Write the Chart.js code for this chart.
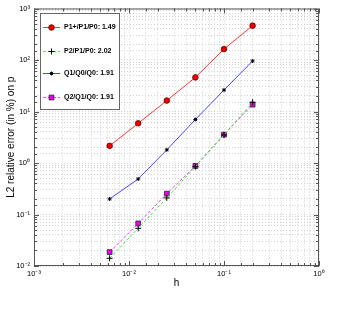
<!DOCTYPE html>
<html>
<head>
<meta charset="utf-8">
<script src="https://cdn.jsdelivr.net/npm/chart.js@4/dist/chart.umd.min.js"></script>
<style>
  html, body { margin: 0; padding: 0; background: #fff; }
  #wrap { width: 340px; height: 331px; }
</style>
</head>
<body>
<div id="wrap"><canvas id="errChart" width="340" height="331"></canvas></div>
<script>
// mesh sizes
const h = [0.00625, 0.0125, 0.025, 0.05, 0.1, 0.2];

// L2 relative error (in %) on p
const p1plus = [2.15, 5.9, 16.3, 46, 163, 465];
const p2 = [0.0141, 0.054, 0.21, 0.85, 3.5, 15.1];
const q1 = [0.2, 0.49, 1.8, 7.0, 26.1, 95.7];
const q2 = [0.0186, 0.067, 0.254, 0.875, 3.56, 13.6];

const labels = ['P1+/P1/P0: 1.49', 'P2/P1/P0: 2.02', 'Q1/Q0/Q0: 1.91', 'Q2/Q1/Q0: 1.91'];

const sup = { '-': '\u207B', '0': '\u2070', '1': '\u00B9', '2': '\u00B2', '3': '\u00B3' };
function powLabel(v) {
    const e = Math.round(Math.log10(v));
    if (Math.abs(Math.log10(v) - e) > 1e-6) return '';
    return '10' + String(e).split('').map(c => sup[c]).join('');
}

function pts(ys) {
    return h.map((x, i) => ({ x: x, y: ys[i] }));
}

// box + inner ticks, matlab style
const boxPlugin = {
    id: 'box',
    afterDraw(chart) {
        const { ctx, chartArea: a } = chart;
        const xs = chart.scales.x, ys = chart.scales.y;
        ctx.save();
        ctx.strokeStyle = '#555';
        ctx.lineWidth = 1;
        ctx.strokeRect(a.left + 0.5, a.top + 0.5, a.right - a.left - 1, a.bottom - a.top - 1);
        ctx.beginPath();
        xs.ticks.forEach(t => {
            const px = Math.round(xs.getPixelForValue(t.value)) + 0.5;
            const len = powLabel(t.value) ? 5 : 3;
            ctx.moveTo(px, a.bottom); ctx.lineTo(px, a.bottom - len);
            ctx.moveTo(px, a.top); ctx.lineTo(px, a.top + len);
        });
        ys.ticks.forEach(t => {
            const py = Math.round(ys.getPixelForValue(t.value)) + 0.5;
            const len = powLabel(t.value) ? 5 : 3;
            ctx.moveTo(a.left, py); ctx.lineTo(a.left + len, py);
            ctx.moveTo(a.right, py); ctx.lineTo(a.right - len, py);
        });
        ctx.stroke();

        // legend box
        const lx = 40, ly = 13, lw = 79, lh = 96;
        ctx.fillStyle = '#fff';
        ctx.fillRect(lx, ly, lw, lh);
        ctx.strokeStyle = '#666';
        ctx.strokeRect(lx + 0.5, ly + 0.5, lw, lh);
        const rows = [27, 51, 73, 97];
        chart.data.datasets.forEach((ds, i) => {
            const y = rows[i] + 0.5;
            ctx.save();
            ctx.strokeStyle = ds.borderColor;
            ctx.lineWidth = 1;
            ctx.setLineDash(ds.borderDash || []);
            ctx.beginPath();
            ctx.moveTo(43, y); ctx.lineTo(60, y);
            ctx.stroke();
            ctx.restore();
            ctx.save();
            ctx.fillStyle = ds.pointBackgroundColor;
            ctx.strokeStyle = ds.pointBorderColor;
            ctx.lineWidth = ds.pointBorderWidth;
            Chart.helpers.drawPoint(ctx, {
                pointStyle: ds.pointStyle, radius: ds.pointRadius,
                borderWidth: ds.pointBorderWidth, rotation: 0
            }, 51.5, y);
            ctx.restore();
            ctx.fillStyle = '#000';
            ctx.font = 'bold 7px "Liberation Sans", Arial, sans-serif';
            ctx.textBaseline = 'middle';
            ctx.fillText(labels[i], 64, y);
        });
        ctx.restore();
    }
};

new Chart(document.getElementById('errChart').getContext('2d'), {
    type: 'line',
    data: {
        datasets: [{
            label: labels[0],
            data: pts(p1plus),
            borderColor: 'rgba(255, 50, 50, 1)',
            borderWidth: 1,
            pointStyle: 'circle',
            pointRadius: 2.8,
            pointBackgroundColor: '#ee0000',
            pointBorderColor: '#600000',
            pointBorderWidth: 0.8
        }, {
            label: labels[1],
            data: pts(p2),
            borderColor: 'rgba(60, 240, 60, 1)',
            borderWidth: 1,
            borderDash: [3, 2],
            pointStyle: 'cross',
            pointRadius: 3,
            pointBackgroundColor: '#000',
            pointBorderColor: '#000',
            pointBorderWidth: 1
        }, {
            label: labels[2],
            data: pts(q1),
            borderColor: 'rgba(70, 70, 255, 1)',
            borderWidth: 1,
            pointStyle: 'star',
            pointRadius: 2,
            pointBackgroundColor: '#000',
            pointBorderColor: '#000',
            pointBorderWidth: 1
        }, {
            label: labels[3],
            data: pts(q2),
            borderColor: 'rgba(255, 60, 255, 1)',
            borderWidth: 1,
            borderDash: [3, 2],
            pointStyle: 'rect',
            pointRadius: 3.4,
            pointBackgroundColor: '#ee00ee',
            pointBorderColor: '#222',
            pointBorderWidth: 0.8
        }]
    },
    options: {
        responsive: false,
        animation: false,
        layout: { padding: { left: 0, top: 7, right: 21, bottom: 0 } },
        plugins: { legend: { display: false }, tooltip: { enabled: false } },
        scales: {
            x: {
                type: 'logarithmic',
                min: 0.001, max: 1,
                afterFit(s) { s.height = 65; },
                grid: { color: '#d2d2d2', drawTicks: false },
                border: { display: false, dash: [1, 2] },
                ticks: {
                    autoSkip: false, maxRotation: 0, padding: 3,
                    color: '#000',
                    font: { family: '"Liberation Sans", Arial, sans-serif', size: 7.5 },
                    callback: v => powLabel(v)
                },
                title: {
                    display: true, text: 'h', color: '#000',
                    font: { family: '"Liberation Sans", Arial, sans-serif', size: 10 },
                    padding: { top: 0, bottom: 42 }
                }
            },
            y: {
                type: 'logarithmic',
                min: 0.01, max: 1000,
                afterFit(s) { s.width = 34; },
                grid: { color: '#d2d2d2', drawTicks: false },
                border: { display: false, dash: [1, 2] },
                ticks: {
                    autoSkip: false, padding: 4,
                    color: '#000',
                    font: { family: '"Liberation Sans", Arial, sans-serif', size: 7.5 },
                    callback: v => powLabel(v)
                },
                title: {
                    display: true, text: 'L2 relative error (in %) on p', color: '#000',
                    font: { family: '"Liberation Sans", Arial, sans-serif', size: 10 },
                    padding: { top: 5, bottom: 0 }
                }
            }
        }
    },
    plugins: [boxPlugin]
});
</script>
</body>
</html>
